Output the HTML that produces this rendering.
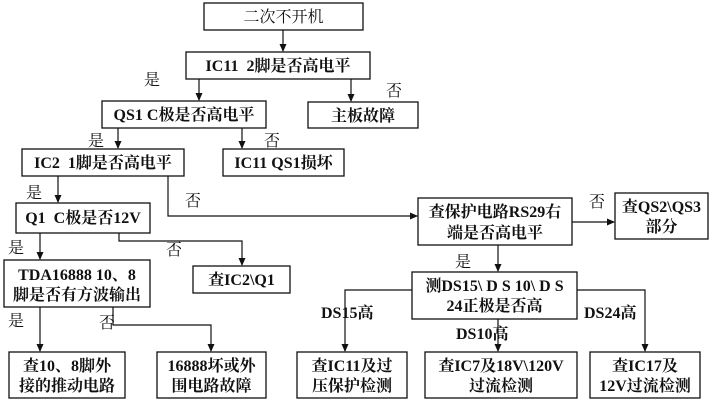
<!DOCTYPE html>
<html><head><meta charset="utf-8"><style>
html,body{margin:0;padding:0;background:#fff;}
svg{display:block;}
text{font-family:"Liberation Serif","Noto Serif CJK SC",serif;font-weight:bold;font-size:16px;fill:#111;white-space:pre;}
.n{font-weight:normal;}
rect{fill:#fff;stroke:#111;stroke-width:1.3;}
path,line{stroke:#111;stroke-width:1.2;fill:none;}
</style></head><body>
<svg width="716" height="401" viewBox="0 0 716 401" xmlns="http://www.w3.org/2000/svg" xml:space="preserve">
<defs><marker id="a" markerWidth="8" markerHeight="8" refX="7" refY="4" orient="auto" markerUnits="userSpaceOnUse"><path d="M0,0.5 L8,4 L0,7.5 Z" style="fill:#111;stroke:none"/></marker></defs>
<rect x="204" y="3" width="159" height="27"/><text x="283.5" y="22" text-anchor="middle" class="n">二次不开机</text>
<rect x="186" y="52" width="184" height="27"/><text x="278" y="71" text-anchor="middle">IC11&#160;&#160;2脚是否高电平</text>
<rect x="308" y="102" width="110" height="26"/><text x="363" y="121" text-anchor="middle">主板故障</text>
<rect x="102" y="101" width="164" height="27"/><text x="184" y="120" text-anchor="middle">QS1 C极是否高电平</text>
<rect x="22" y="149" width="162" height="27"/><text x="103" y="168" text-anchor="middle">IC2&#160;&#160;1脚是否高电平</text>
<rect x="223" y="149" width="121" height="27"/><text x="283.5" y="168" text-anchor="middle">IC11 QS1损坏</text>
<rect x="16" y="203" width="134" height="30"/><text x="83" y="223" text-anchor="middle">Q1&#160;&#160;C极是否12V</text>
<rect x="4" y="260" width="146" height="47"/><text x="77" y="280" text-anchor="middle">TDA16888 10、8</text><text x="77" y="300" text-anchor="middle">脚是否有方波输出</text>
<rect x="193" y="266" width="97" height="27"/><text x="241.5" y="285" text-anchor="middle">查IC2\Q1</text>
<rect x="9" y="352" width="116" height="46"/><text x="67" y="371" text-anchor="middle">查10、8脚外</text><text x="67" y="391" text-anchor="middle">接的推动电路</text>
<rect x="157" y="352" width="109" height="46"/><text x="211.5" y="371" text-anchor="middle">16888坏或外</text><text x="211.5" y="391" text-anchor="middle">围电路故障</text>
<rect x="418" y="198" width="154" height="47"/><text x="495" y="217" text-anchor="middle">查保护电路RS29右</text><text x="495" y="238" text-anchor="middle">端是否高电平</text>
<rect x="615" y="193" width="93" height="46"/><text x="661.5" y="212" text-anchor="middle">查QS2\QS3</text><text x="661.5" y="232" text-anchor="middle">部分</text>
<rect x="412" y="272" width="165" height="47"/><text x="494.5" y="291" text-anchor="middle">测DS15\ D&#160;S 10\ D&#160;S</text><text x="494.5" y="311" text-anchor="middle">24正极是否高</text>
<rect x="297" y="352" width="110" height="46"/><text x="352" y="371" text-anchor="middle">查IC11及过</text><text x="352" y="391" text-anchor="middle">压保护检测</text>
<rect x="425" y="352" width="152" height="46"/><text x="501" y="371" text-anchor="middle">查IC7及18V\120V</text><text x="501" y="391" text-anchor="middle">过流检测</text>
<rect x="590" y="352" width="110" height="46"/><text x="645" y="371" text-anchor="middle">查IC17及</text><text x="645" y="391" text-anchor="middle">12V过流检测</text>

<line x1="283" y1="30" x2="283" y2="51" marker-end="url(#a)"/>
<line x1="199" y1="79" x2="199" y2="100" marker-end="url(#a)"/>
<line x1="351" y1="79" x2="351" y2="101" marker-end="url(#a)"/>
<line x1="118" y1="128" x2="118" y2="148" marker-end="url(#a)"/>
<line x1="242" y1="128" x2="242" y2="148" marker-end="url(#a)"/>
<line x1="58" y1="176" x2="58" y2="202" marker-end="url(#a)"/>
<path d="M168,176 V216 H417" marker-end="url(#a)"/>
<line x1="40" y1="233" x2="40" y2="259" marker-end="url(#a)"/>
<path d="M119,233 V241 H242 V265" marker-end="url(#a)"/>
<line x1="40" y1="307" x2="40" y2="351" marker-end="url(#a)"/>
<path d="M113,307 V325 H211 V351" marker-end="url(#a)"/>
<line x1="572" y1="222" x2="614" y2="222" marker-end="url(#a)"/>
<line x1="498" y1="245" x2="498" y2="271" marker-end="url(#a)"/>
<path d="M412,290 H345 V351" marker-end="url(#a)"/>
<line x1="498" y1="319" x2="498" y2="351" marker-end="url(#a)"/>
<path d="M577,290 H645 V351" marker-end="url(#a)"/>

<text x="144" y="85" class="n">是</text>
<text x="386" y="96" class="n">否</text>
<text x="88" y="146" class="n">是</text>
<text x="264" y="146" class="n">否</text>
<text x="26" y="198" class="n">是</text>
<text x="185" y="206" class="n">否</text>
<text x="8" y="253" class="n">是</text>
<text x="166" y="255" class="n">否</text>
<text x="8" y="326" class="n">是</text>
<text x="99" y="328" class="n">否</text>
<text x="589" y="207" class="n">否</text>
<text x="455" y="267" class="n">是</text>
<text x="321" y="318">DS15高</text>
<text x="456" y="339">DS10高</text>
<text x="584" y="318">DS24高</text>
</svg>
</body></html>
